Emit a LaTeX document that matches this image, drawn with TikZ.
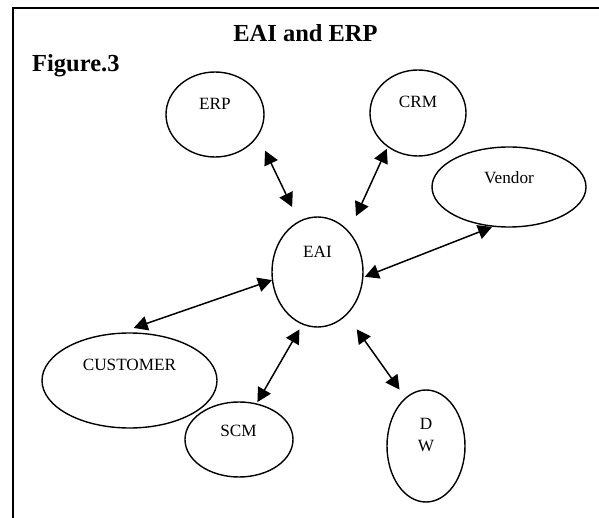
\documentclass[tikz,border=0pt]{standalone}
\usepackage{fontspec}
\setmainfont{Liberation Serif}
\usetikzlibrary{shapes.geometric,arrows.meta}
\begin{document}
\begin{tikzpicture}[x=1pt,y=-1pt,
  bubble/.style={draw,ellipse,line width=1.4pt,inner sep=0pt,outer sep=0pt},
  lbl/.style={inner sep=0pt,font=\fontsize{17.2}{21.5}\selectfont,align=center},
  heading/.style={inner sep=0pt,font=\fontsize{24.5}{29}\selectfont\bfseries},
  link/.style={line width=1.5pt,
    {Triangle[length=14pt,width=14.5pt]}-{Triangle[length=14pt,width=14.5pt]}}]
\useasboundingbox (0,0) rectangle (599,518);

% page frame: top and left rules
\coordinate (frameBL) at (12.5,518);
\coordinate (frameTL) at (12.5,8);
\coordinate (frameTR) at (599,8);
\draw[line width=2pt] (frameBL) -- (frameTL) -- (frameTR);

% headings
\node[heading,anchor=base] (title) at (305.5,41.7) {EAI and ERP};
\node[heading,anchor=base west] (fig) at (32,72) {Figure.3};

% systems
\node[bubble,minimum width=98pt,minimum height=85pt]  (erp)      at (215,114.5) {};
\node[bubble,minimum width=96pt,minimum height=86pt]  (crm)      at (418,113)   {};
\node[bubble,minimum width=154pt,minimum height=80pt] (vendor)   at (509,187)   {};
\node[bubble,minimum width=91pt,minimum height=110pt] (eai)      at (317.5,272) {};
\node[bubble,minimum width=175pt,minimum height=95pt] (customer) at (129.5,380.5) {};
\node[bubble,minimum width=108pt,minimum height=75pt] (scm)      at (239,439.5) {};
\node[bubble,minimum width=78pt,minimum height=112pt] (dw)       at (426,446)   {};

% labels, set in the upper part of each ellipse
\node[lbl] (erpT)      at (215,104)   {ERP};
\node[lbl] (crmT)      at (418,102)   {CRM};
\node[lbl] (vendorT)   at (509,178)   {Vendor};
\node[lbl] (eaiT)      at (317.5,252) {EAI};
\node[lbl] (customerT) at (129.5,365) {CUSTOMER};
\node[lbl] (scmT)      at (238.5,431) {SCM};
\node[lbl] (dwT)       at (426,435)   {D\\W};

% two-way links to the integration hub
\draw[link,shorten <=17pt,shorten >=16.3pt]  (erp.-26)       -- (eai.110);
\draw[link,shorten <=2.6pt,shorten >=17.5pt] (crm.228)       -- (eai.52);
\draw[link,shorten <=2pt,shorten >=2.2pt]    (vendor.249)    -- (eai.-7);
\draw[link,shorten <=16.8pt,shorten >=0.5pt] (customer.104.8) -- (eai.190);
\draw[link,shorten <=2.2pt,shorten >=6.3pt]  (scm.64.6)      -- (eai.254);
\draw[link,shorten <=10.6pt,shorten >=18pt]  (dw.113.8)      -- (eai.-56);
\end{tikzpicture}
\end{document}
